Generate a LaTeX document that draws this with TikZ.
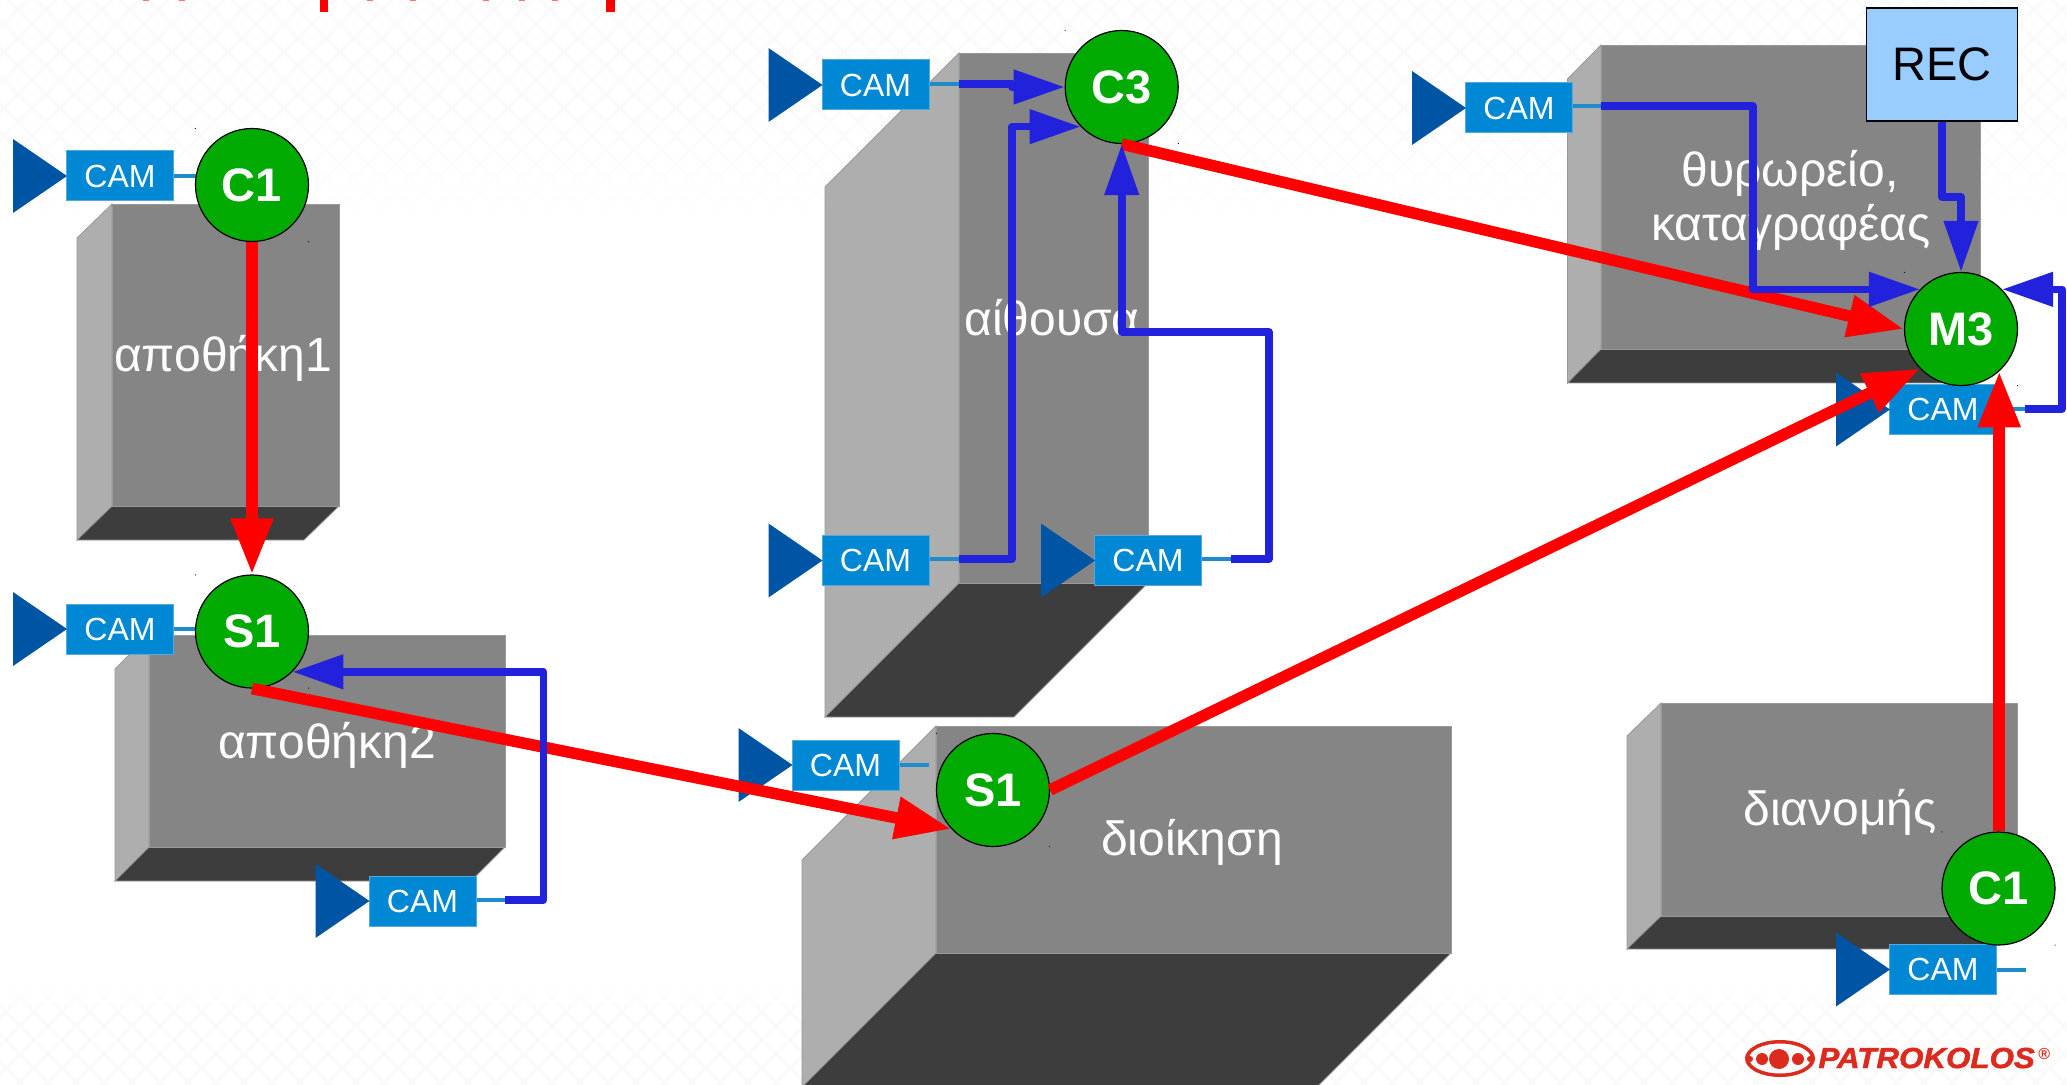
\documentclass[tikz,border=0pt]{standalone}
\usepackage{fontspec}
\setmainfont{Liberation Sans}
\newfontfamily\logofont[UprightFont=* Bold Italic,FakeBold=1.6]{Liberation Sans}
\usetikzlibrary{arrows.meta,calc}
\definecolor{redline}{HTML}{FF0000}
\definecolor{blueline}{HTML}{2222DD}
\definecolor{camfill}{HTML}{0088D4}
\definecolor{camedge}{HTML}{55AADD}
\definecolor{camtri}{HTML}{0054A4}
\definecolor{tailblue}{HTML}{1E8CC8}
\definecolor{blockfront}{HTML}{858585}
\definecolor{blockside}{HTML}{AEAEAE}
\definecolor{blockfloor}{HTML}{3D3D3D}
\definecolor{blockedge}{HTML}{999999}
\definecolor{nodegreen}{HTML}{00AA00}
\definecolor{recfill}{HTML}{99CCFF}
\definecolor{logored}{HTML}{DD2A1E}
\definecolor{lattice}{HTML}{FAFAFA}
\tikzset{
  camnode/.style={draw=camedge,line width=0.5pt,fill=camfill,text=white,minimum width=53.5pt,minimum height=25pt,inner sep=0pt,font=\fontsize{16}{18}\selectfont},
  tailline/.style={draw=tailblue,line width=2pt},
  ctrl/.style={circle,draw=black,line width=0.6pt,fill=nodegreen,text=white,minimum size=56.5pt,inner sep=0pt,font=\fontsize{23.5}{26}\selectfont\bfseries},
  recnode/.style={draw=black,line width=0.6pt,fill=recfill,text=black,minimum width=75.6pt,minimum height=56.5pt,inner sep=0pt,font=\fontsize{23.5}{26}\selectfont},
  blocklabel/.style={anchor=base,text=white,inner sep=0pt,font=\fontsize{24}{26}\selectfont},
  redarrow/.style={draw=redline,line width=5.75pt,-{Triangle[length=28pt,width=20pt]}},
  bluearrow/.style={draw=blueline,line width=3.8pt,line join=round,-{Triangle[length=25.5pt,width=16.5pt]}},
}
\newcommand{\blockbox}[6]{%
  \fill[blockside,draw=blockedge,line width=0.4pt] (#1,#2) -- ({#1-#5},{#2+#6}) -- ({#1-#5},{#4+#6}) -- (#1,#4) -- cycle;
  \fill[blockfloor,draw=blockedge,line width=0.4pt] (#1,#4) -- (#3,#4) -- ({#3-#5},{#4+#6}) -- ({#1-#5},{#4+#6}) -- cycle;
  \fill[blockfront,draw=blockedge,line width=0.4pt] (#1,#2) rectangle (#3,#4);
}
\newcommand{\camera}[3]{%
  \node[camnode] (#1) at (#2,#3) {CAM};
  \fill[camtri] ($(#1.west)+(-26.5pt,18.5pt)$) -- ($(#1.west)+(0.5pt,0pt)$) -- ($(#1.west)+(-26.5pt,-18.5pt)$) -- cycle;
}
\newcommand{\ctrlnode}[4]{%
  \node[ctrl] (#1) at (#2,#3) {#4};
  \fill[black] ($(#1.center)+(-28.3pt,28.3pt)$) circle (0.3pt);
  \fill[black] ($(#1.center)+(28.3pt,-28.3pt)$) circle (0.3pt);
}
\begin{document}
\begin{tikzpicture}[x=0.5pt,y=-0.5pt]
\useasboundingbox (0,0) rectangle (2067,1085);
\clip (0,0) rectangle (2067,1085);
\fill[white] (0,0) rectangle (2067,1085);
% lattice background, top
\begin{scope}
  \clip (0,0) rectangle (2067,230);
  \foreach \k in {0,...,90} {
    \draw[lattice,line width=1.5pt] ({\k*28-300},0) -- ({\k*28-300+230},230);
    \draw[lattice,line width=1.5pt] ({\k*28},0) -- ({\k*28-230},230);
  }
\end{scope}
\begin{scope}
  \clip (0,990) rectangle (2067,1085);
  \foreach \k in {0,...,80} {
    \draw[lattice,line width=1.5pt] ({\k*28-100},990) -- ({\k*28-100+95},1085);
    \draw[lattice,line width=1.5pt] ({\k*28},990) -- ({\k*28-95},1085);
  }
\end{scope}
\foreach \i in {1,...,12} {
  \fill[white,opacity={\i/12}] (0,{90+\i*10}) rectangle (2067,{100+\i*10});
}
\fill[white] (0,220) rectangle (2067,990);
\foreach \i in {1,2,3} {
  \fill[white,opacity={1-\i/4}] (0,{980+\i*8}) rectangle (2067,{988+\i*8});
}
% title remnants
\fill[redline] (320,0) rectangle (328,12);
\fill[redline] (606,0) rectangle (615,12);
\foreach \sx in {146,182,370,413,486,522,555} {
  \fill[redline!55] (\sx-3,0) rectangle (\sx+3,1);
}
% blocks
\blockbox{112}{204}{339}{506}{35}{34}
\blockbox{149}{635}{505}{847}{34}{34}
\blockbox{959}{53}{1148}{583}{134}{134}
\blockbox{936}{726}{1451}{953}{134}{134}
\blockbox{1601}{45}{1980}{349}{33.5}{34}
\blockbox{1661}{703}{2017}{916}{34}{33}
% labels
\node[blocklabel] (t1) at (223,372) {αποθήκη1};
\node[blocklabel] (t2) at (327,758) {αποθήκη2};
\node[blocklabel] (t3) at (1052,336) {αίθουσα};
\node[blocklabel] (t4) at (1192,855) {διοίκηση};
\node[blocklabel] (t5) at (1840,825) {διανομής};
\node[blocklabel] (t6) at (1790,187) {θυρωρείο,};
\node[blocklabel] (t7) at (1791,241) {καταγραφέας};
% cameras
\camera{cam1}{120}{176}
\camera{cam2}{120}{629}
\camera{cam3}{422.5}{901}
\camera{cam4}{875.5}{85}
\camera{cam5}{875.5}{560.5}
\camera{cam6}{1148}{560.5}
\camera{cam7}{845.5}{765}
\camera{cam8}{1519}{108}
\camera{cam9}{1943}{409.5}
\camera{cam10}{1943}{969.5}
% free ends and bends
\coordinate (f3) at (505,900);   \coordinate (b3) at (543.5,900);
\coordinate (f4) at (959,84);    \coordinate (b4) at (1012,84);
\coordinate (f5) at (959,559);   \coordinate (b5) at (1012,559);
\coordinate (f6) at (1231,559);  \coordinate (b6) at (1269,559); \coordinate (c6) at (1269,332);
\coordinate (f7) at (929,765);
\coordinate (f8) at (1601,106);  \coordinate (b8) at (1753,106);
\coordinate (f9) at (2025,409);  \coordinate (b9) at (2062,409);
\coordinate (f10) at (2026,970);
\coordinate (r1) at (1942,197);  \coordinate (r2) at (1961,197);
% tails
\draw[tailline] (cam3.east |- f3) -- (f3);
\draw[tailline] (cam4.east |- f4) -- (f4);
\draw[tailline] (cam5.east |- f5) -- (f5);
\draw[tailline] (cam6.east |- f6) -- (f6);
\draw[tailline] (cam7.east |- f7) -- (f7);
\draw[tailline] (cam8.east |- f8) -- (f8);
\draw[tailline] (cam9.east |- f9) -- (f9);
\draw[tailline] (cam10.east |- f10) -- (f10);
\draw[tailline] (cam1.east) -- ++(25,0);
\draw[tailline] (cam2.east) -- ++(25,0);
% controllers
\ctrlnode{C1a}{252}{185}{C1}
\ctrlnode{S1a}{252}{631.5}{S1}
\ctrlnode{C3}{1121.7}{87}{C3}
\ctrlnode{S1b}{993}{790}{S1}
\ctrlnode{M3}{1961}{329}{M3}
\ctrlnode{C1b}{1998.5}{888.5}{C1}
% recorder
\node[recnode] (REC) at (1942,64.5) {REC};
% red trunks
\draw[redarrow] (C1a.south) -- (S1a.north);
\draw[redarrow] (S1a.south) -- (S1b.223);
\draw[redarrow] (S1b.east) -- (M3.224);
\draw[redarrow] (C3.south) -- (M3.west);
\draw[redarrow] (C1b.north -| M3.312) -- (M3.312);
% blue local links
\draw[bluearrow] (f3) -- (b3) -- (b3 |- S1a.315) -- (S1a.315);
\draw[bluearrow] (f4) -- (b4) -- (b4 |- C3.west) -- (C3.west);
\draw[bluearrow] (f5) -- (b5) -- (b5 |- C3.224) -- (C3.224);
\draw[bluearrow] (f6) -- (b6) -- (c6) -- (c6 -| C3.south) -- (C3.south);
\draw[bluearrow] (f8) -- (b8) -- (b8 |- M3.136) -- (M3.136);
\draw[bluearrow] (f9) -- (b9) -- (b9 |- M3.44) -- (M3.44);
\draw[bluearrow] (REC.south) -- (r1) -- (r2) -- (M3.north);
% logo
\fill[logored,even odd rule] (1780,1058.5) ellipse [x radius=35,y radius=18.5] (1780,1058.5) ellipse [x radius=31,y radius=15];
\fill[logored] (1779,1059) circle (5pt);
\fill[logored] (1798,1059) circle (3pt);
\fill[logored] (1762,1059) circle (3pt);
\fill[logored] (1810,1059) circle (1.5pt);
\fill[logored] (1750,1059) circle (1.5pt);
\node[text=logored,inner sep=0pt,anchor=base west,xscale=1.08,font=\fontsize{14.5}{16}\logofont] (logo) at (1818,1068) {PATROKOLOS};
\node[text=logored,inner sep=0pt,anchor=base west,font=\fontsize{8}{9}\selectfont\bfseries] (reg) at (2038,1059) {®};
\end{tikzpicture}
\end{document}
